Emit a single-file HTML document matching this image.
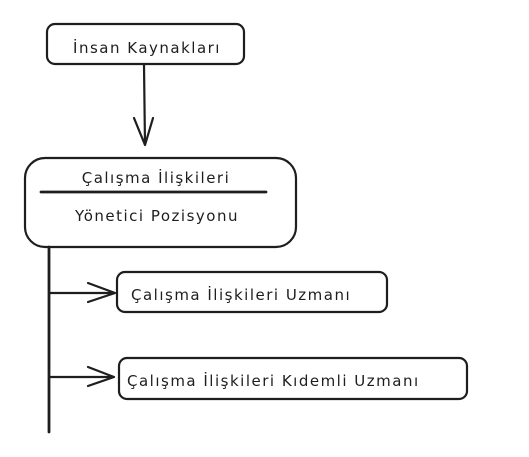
<!DOCTYPE html>
<html><head><meta charset="utf-8"><style>
html,body{margin:0;padding:0;background:#fff;}
svg text{font-family:"DejaVu Sans",sans-serif;font-size:15px;letter-spacing:1.5px;fill:#1e1e1e;}
</style></head><body>
<svg width="529" height="452" viewBox="0 0 529 452" xmlns="http://www.w3.org/2000/svg">
<g fill="none" stroke="#1e1e1e" stroke-width="2.2" stroke-linecap="round" stroke-linejoin="round">
<rect x="47" y="24" width="197" height="40" rx="8"/>
<path d="M144 65 L145 145 M134 118 L145 145 L153 118"/>
<rect x="25" y="158" width="271" height="89" rx="20"/>
<path d="M41 192 L266 192" stroke-width="2.8"/>
<path d="M49 247 L49 432" stroke-width="2.8"/>
<rect x="117" y="272" width="270" height="40" rx="8"/>
<path d="M50 293 L115 293 M88 283 L115 293 L88 302"/>
<rect x="119" y="358" width="348" height="41" rx="8"/>
<path d="M50 377 L114 377 M88 367 L114 377 L88 386"/>
</g>
<text x="147" y="53" text-anchor="middle">İnsan Kaynakları</text>
<text x="156" y="183" text-anchor="middle">Çalışma İlişkileri</text>
<text x="157" y="221" text-anchor="middle">Yönetici Pozisyonu</text>
<text x="131" y="300">Çalışma İlişkileri Uzmanı</text>
<text x="127" y="386">Çalışma İlişkileri Kıdemli Uzmanı</text>
</svg>
</body></html>
